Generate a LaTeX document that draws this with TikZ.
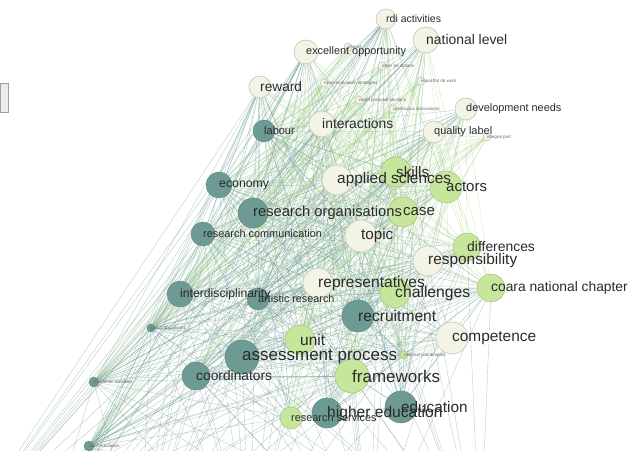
\documentclass[tikz,border=0pt]{standalone}
\usepackage{fontspec}
\setmainfont{Liberation Sans}
\usepackage{xcolor}
\usepackage{tikz}
\usetikzlibrary{backgrounds}

\definecolor{tealnode}{HTML}{6E9A94}
\definecolor{greennode}{HTML}{C6E69C}
\definecolor{creamnode}{HTML}{F3F3E6}
\definecolor{creamline}{HTML}{C9C9BC}
\definecolor{tealedge}{HTML}{6A9891}
\definecolor{greenedge}{HTML}{9FD07E}
\definecolor{labeltext}{HTML}{2A2A2A}

\begin{document}
\begin{tikzpicture}[x=1pt,y=-1pt,semithick]
  \tikzstyle{tnode}=[circle, fill=tealnode, draw=tealnode!85!black, line width=0.4pt, inner sep=0pt]
  \tikzstyle{gnode}=[circle, fill=greennode, draw=greennode!80!black, line width=0.4pt, inner sep=0pt]
  \tikzstyle{cnode}=[circle, fill=creamnode, draw=creamline, line width=0.7pt, inner sep=0pt]
  \tikzstyle{lbl}=[anchor=west, inner sep=0pt, text=labeltext]
  \tikzstyle{tedge}=[draw=tealedge, line width=0.35pt, opacity=0.5]
  \tikzstyle{gedge}=[draw=greenedge, line width=0.35pt, opacity=0.5]

  \useasboundingbox (0,0) rectangle (631,462);

  % cut-off panel tab on the left
  \node[draw=gray!75, fill=gray!15, line width=0.6pt, minimum width=8pt, minimum height=29pt, inner sep=0pt, anchor=north west] (tab) at (0,83) {};

  % teal nodes
  \foreach \n/\px/\py/\r in {lab/264/131/11, eco/219/185/13, rorg/253/213/15, rcom/203/234/12,
      inter/180/294/13, art/258/299/11, recr/358/316/16, pol/151/328/4, ass/242/357/17,
      coord/196/376/14, acad/94/382/5, high/327/413/15, edu/401/407/16, adult/89/446/5}
    \node[tnode, minimum size=2*\r pt] (\n) at (\px,\py) {};

  % cream nodes
  \foreach \n/\px/\py/\r in {rdi/386/19/10, nat/426/40/13, exc/306/52/12, rew/260/87/11,
      dev/466/109/11, qual/434/132/11, interact/322/124/13, appl/337/180/15, topic/361/236/16,
      resp/428/261/15, repr/318/283/15, comp/452/338/16,
      impact/348/47/4, other/382/66/4, noveval/324/83/4, impful/421/81/4,
      novprop/359/100/4, contin/393/109/4, integ/487/137/4}
    \node[cnode, minimum size=2*\r pt] (\n) at (\px,\py) {};

  % green nodes
  \foreach \n/\px/\py/\r in {skills/396/172/15, actors/446/187/16, case/403/212/15,
      diff/467/247/14, chal/395/293/15, coara/491/288/14, unit/300/340/15,
      frame/352/376/17, serv/291/418/11, ncoord/404/355/4}
    \node[gnode, minimum size=2*\r pt] (\n) at (\px,\py) {};

  % nodes beyond the lower edge
  \coordinate (far1) at (-40,540);
  \coordinate (far2) at (40,560);
  \coordinate (far3) at (140,560);
  \coordinate (far4) at (250,560);
  \coordinate (far5) at (370,560);
  \coordinate (far6) at (480,560);

  \begin{pgfonlayer}{background}
    \begin{scope}
      \clip (0,0) rectangle (631,450);
      \foreach \i in {lab,eco,rorg,rcom,inter,art,recr,pol,ass,coord,acad,high,edu,adult}{
        \foreach \j in {rdi,nat,exc,rew,dev,qual,interact,appl,topic,resp,repr,comp}{
          \draw[tedge] (\i) -- (\j);
        }
      }
      \foreach \i in {lab,eco,rorg,rcom,inter,art,recr,pol,ass,coord,acad,high,edu,adult}{
        \foreach \j in {skills,actors,case,diff,chal,coara,unit,frame,serv,ncoord}{
          \draw[tedge] (\i) -- (\j);
        }
      }
      \foreach \i in {skills,actors,case,diff,chal,coara,unit,frame,serv,ncoord}{
        \foreach \j in {rdi,nat,exc,rew,dev,qual,interact,appl,topic,resp,repr,comp}{
          \draw[gedge] (\i) -- (\j);
        }
      }
      \foreach \i in {impact,other,noveval,impful,novprop,contin,integ}{
        \foreach \j in {lab,eco,rorg,inter,ass,coord,acad,adult,pol,unit,frame,chal,case}{
          \draw[gedge] (\i) -- (\j);
        }
      }
      \foreach \i in {far1,far2,far3,far4,far5,far6}{
        \foreach \j in {eco,rcom,inter,pol,ass,coord,acad,adult,exc,rdi,rew,interact,appl,skills,diff,coara,frame}{
          \draw[tedge] (\i) -- (\j);
        }
      }
    \end{scope}
  \end{pgfonlayer}

  % labels, drawn over all circles
  \foreach \n/\t/\s in {lab/labour/11, eco/economy/12.3, rorg/research organisations/14.7,
      rcom/research communication/10.9, inter/interdisciplinarity/12.2, art/artistic research/10.8,
      recr/recruitment/15.6, ass/assessment process/17, coord/coordinators/13.8,
      high/higher education/15.6, edu/education/15.3,
      rdi/rdi activities/10.5, nat/national level/13.9, exc/excellent opportunity/10.9,
      rew/reward/13.7, dev/development needs/10.9, qual/quality label/11,
      interact/interactions/13.9, appl/applied sciences/15.4, topic/topic/15.2,
      resp/responsibility/15.4, repr/representatives/15.6, comp/competence/15.4,
      skills/skills/15.2, actors/actors/15, case/case/15, diff/differences/13.9,
      chal/challenges/15.7, coara/coara national chapter/13.8, unit/unit/15.5,
      frame/frameworks/17, serv/research services/10.9}
    \node[lbl, font=\fontsize{\s}{\s}\selectfont] (\n-l) at (\n.center) {\t};

  % tiny labels
  \foreach \n/\t in {pol/policy documents, acad/academic activities, adult/adult education,
      impact/impact, other/other rdi actions, noveval/novel evaluation strategies,
      impful/impactful rdi work, novprop/novel proposal sections,
      contin/continuous discussions, integ/integral part, ncoord/national coordination}
    \node[lbl, font=\fontsize{4.5}{4.5}\selectfont, text=gray!80!black] (\n-l) at (\n.center) {\t};
\end{tikzpicture}
\end{document}
